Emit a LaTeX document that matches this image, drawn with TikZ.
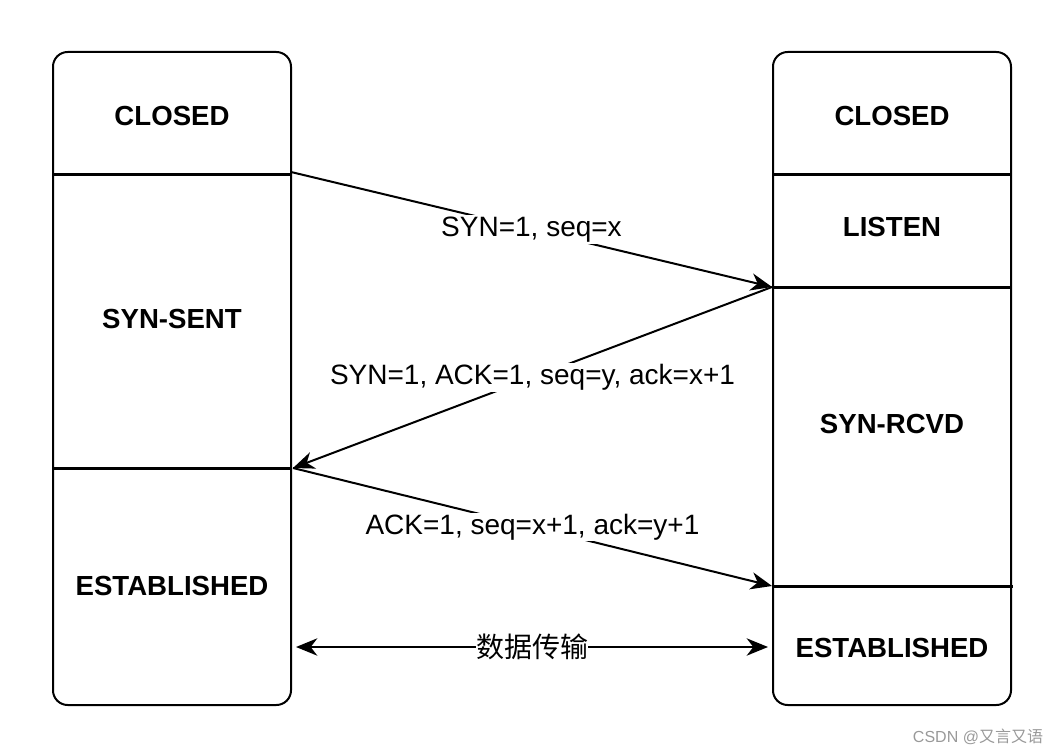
\documentclass[tikz,border=0pt]{standalone}
\usepackage{fontspec}
\setmainfont{Liberation Sans}
\newfontfamily\cjk{Noto Sans CJK SC}
\usetikzlibrary{arrows.meta}
\tikzstyle{column} = [draw=black, line width=1.5pt, rectangle,
    rounded corners=11pt, inner sep=0pt, minimum width=178.5pt, minimum height=489.75pt]
\tikzstyle{state} = [font=\bfseries\fontsize{20.7}{24}\selectfont]
\tikzstyle{msg} = [fill=white, inner sep=1pt, font=\fontsize{21}{24}\selectfont]
\tikzstyle{divider} = [line width=2.25pt]
\tikzstyle{signal} = [line width=1.5pt, -{Stealth[length=16pt, width=13pt, inset=5pt]}]

\begin{document}
\begin{tikzpicture}[x=0.75pt, y=-0.75pt]
                \useasboundingbox (0,0) rectangle (1064,756);
                % client and server columns
                \node [column] (client) at (172,378.5) {};
                \node [column] (server) at (892,378.5) {};
                \draw [divider] (53,175) -- (291,175);
                \draw [divider] (53,468) -- (291,468);
                \draw [divider] (773,175) -- (1011,175);
                \draw [divider] (773,287) -- (1011,287);
                \draw [divider] (773,586) -- (1013,586);
                % states
                \node [state] (cclosed) at (172,116) {CLOSED};
                \node [state] (csent) at (172,319) {SYN-SENT};
                \node [state] (cest) at (172,586) {ESTABLISHED};
                \node [state] (sclosed) at (892,116) {CLOSED};
                \node [state] (slisten) at (892,227) {LISTEN};
                \node [state] (srcvd) at (892,424) {SYN-RCVD};
                \node [state] (sest) at (892,648) {ESTABLISHED};
                % handshake
                \coordinate (c1) at (291,172);
                \coordinate (c2) at (293,468);
                \coordinate (s1) at (772,287);
                \coordinate (s2) at (772,586);
                \draw [signal] (c1) -- node[msg, midway] (m1) {SYN=1, seq=x} (s1);
                \draw [signal] (s1) -- node[msg, midway] (m2) {SYN=1, ACK=1, seq=y, ack=x+1} (c2);
                \draw [signal] (c2) -- node[msg, midway] (m3) {ACK=1, seq=x+1, ack=y+1} (s2);
                \coordinate (d1) at (296,647);
                \coordinate (d2) at (768,647);
                \draw [signal, {Stealth[length=16pt, width=13pt, inset=5pt]}-{Stealth[length=16pt, width=13pt, inset=5pt]}]
                    (d1) -- node[msg, midway, inner sep=0pt] (data) {\cjk 数据传输} (d2);
                \node [text=black!40, font=\fontsize{12}{14}\selectfont] (mark) at (978,737) {CSDN @{\cjk 又言又语}};
            \end{tikzpicture}
\end{document}
